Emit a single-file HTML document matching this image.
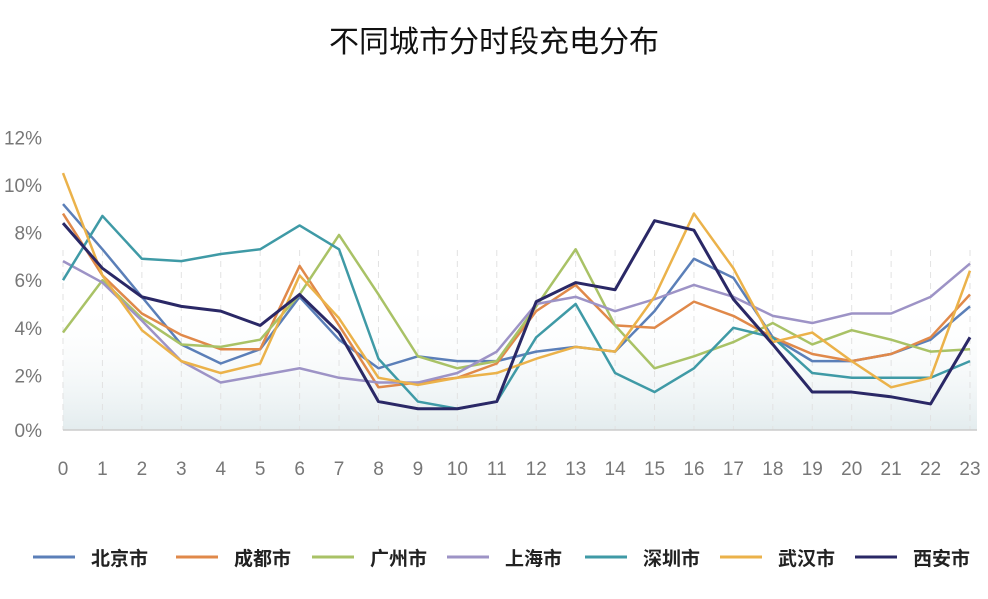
<!DOCTYPE html>
<html><head><meta charset="utf-8"><style>
body{margin:0;background:#fff;width:988px;height:594px;overflow:hidden;font-family:"Liberation Sans","Noto Sans CJK SC",sans-serif}
</style></head><body>
<svg id="chart" width="988" height="594" xmlns="http://www.w3.org/2000/svg">
<defs><linearGradient id="bg" x1="0" y1="0" x2="0" y2="1"><stop offset="0" stop-color="#fff" stop-opacity="0"/><stop offset="1" stop-color="#e3ecee"/></linearGradient></defs>
<text x="494" y="52" text-anchor="middle" font-size="30" fill="#111" font-family="Liberation Sans, Noto Sans CJK SC, sans-serif">不同城市分时段充电分布</text>
<rect x="63" y="300" width="914" height="130" fill="url(#bg)"/>
<g id="grid"></g><g id="yaxis"></g><g id="xaxis"></g><g id="series"></g><g id="legend"></g>
<line x1="63" y1="430" x2="977" y2="430" stroke="#ccc" stroke-width="1.5"/>
</svg>
<script>
const hours=[0,1,2,3,4,5,6,7,8,9,10,11,12,13,14,15,16,17,18,19,20,21,22,23];
const yTicks=[0,2,4,6,8,10,12];
const cityNames=["北京市","成都市","广州市","上海市","深圳市","武汉市","西安市"];
const beijing=[9.2,7.3,5.3,3.3,2.5,3.1,5.3,3.5,2.3,2.8,2.6,2.6,3.0,3.2,3.0,4.7,6.9,6.1,3.6,2.6,2.6,2.9,3.5,4.9];
const chengdu=[8.8,6.2,4.6,3.7,3.1,3.1,6.6,4.1,1.5,1.7,1.9,2.5,4.7,5.8,4.1,4.0,5.1,4.5,3.6,2.9,2.6,2.9,3.6,5.4];
const guangzhou=[3.8,6.0,4.4,3.3,3.2,3.5,5.4,7.9,5.4,2.8,2.3,2.6,4.9,7.3,4.1,2.3,2.8,3.4,4.2,3.3,3.9,3.5,3.0,3.1];
const shanghai=[6.8,5.9,4.3,2.6,1.7,2.0,2.3,1.9,1.7,1.7,2.1,3.0,5.0,5.3,4.7,5.2,5.8,5.3,4.5,4.2,4.6,4.6,5.3,6.7];
const shenzhen=[6.0,8.7,6.9,6.8,7.1,7.3,8.3,7.3,2.7,0.9,0.6,0.9,3.6,5.0,2.1,1.3,2.3,4.0,3.6,2.1,1.9,1.9,1.9,2.6];
const wuhan=[10.5,6.2,3.9,2.6,2.1,2.5,6.2,4.4,1.9,1.6,1.9,2.1,2.7,3.2,3.0,5.3,8.8,6.5,3.4,3.8,2.6,1.5,1.9,6.4];
const xian=[8.4,6.5,5.3,4.9,4.7,4.1,5.4,3.8,0.9,0.6,0.6,0.9,5.1,5.9,5.6,8.5,8.1,5.2,3.3,1.3,1.3,1.1,0.8,3.6];
const seriesData=[beijing,chengdu,guangzhou,shanghai,shenzhen,wuhan,xian];
const colors=["#5b7fb8","#e0894a","#a9c266","#9d93c6","#3f9aa6","#ebb24a","#2a2866"];
const slugs=["beijing","chengdu","guangzhou","shanghai","shenzhen","wuhan","xian"];
const NS="http://www.w3.org/2000/svg";
const x=h=>63+h*(970-63)/23;
const y=v=>423-v*23.8;
function mk(tag,attrs,parent){const e=document.createElementNS(NS,tag);for(const k in attrs)e.setAttribute(k,attrs[k]);parent.appendChild(e);return e;}
const grid=document.getElementById('grid'),ya=document.getElementById('yaxis'),xa=document.getElementById('xaxis'),sg=document.getElementById('series'),lg=document.getElementById('legend');
hours.forEach(h=>{
 const l=mk('line',{x1:x(h),x2:x(h),y1:250,y2:430,stroke:'#e2e2e2','stroke-dasharray':'6,5'},grid);
 
 
 const t=mk('text',{x:x(h),y:475,'text-anchor':'middle','font-size':19,fill:'#777'},xa);
 t.textContent=h;
 
 
});
yTicks.forEach(v=>{
 const t=mk('text',{x:42,y:(v===0?430:y(v))+7,'text-anchor':'end','font-size':19,fill:'#777'},ya);
 t.textContent=v+'%';
 
 
});
seriesData.forEach((d,i)=>{
 const p=mk('polyline',{points:d.map((v,h)=>x(h)+','+y(v)).join(' '),fill:'none',stroke:colors[i],'stroke-width':i===6?3:2.5,'stroke-linejoin':'round'},sg);
 
 
});
const lx=[33,176,312,447,585,720,855];
cityNames.forEach((n,i)=>{
 const g=mk('g',{},lg);
 
 
 mk('line',{x1:lx[i],x2:lx[i]+42,y1:557,y2:557,stroke:colors[i],'stroke-width':3},g);
 const t=mk('text',{x:lx[i]+58,y:565,'font-size':19,fill:'#222','font-weight':'bold'},g);
 t.textContent=n;
});
</script>
</body></html>
